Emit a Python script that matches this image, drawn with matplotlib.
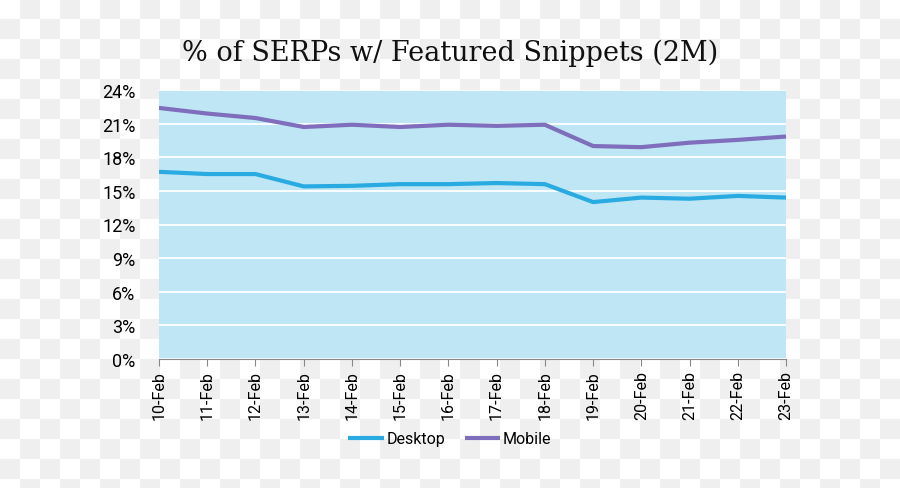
import numpy as np
import matplotlib
matplotlib.use('Agg')
import matplotlib.pyplot as plt
from matplotlib.collections import PatchCollection
from matplotlib.patches import Rectangle
from matplotlib.ticker import FuncFormatter

plt.rcParams['font.family'] = ['Roboto', 'DejaVu Sans']

dates = ['10-Feb', '11-Feb', '12-Feb', '13-Feb', '14-Feb', '15-Feb', '16-Feb',
         '17-Feb', '18-Feb', '19-Feb', '20-Feb', '21-Feb', '22-Feb', '23-Feb']
desktop = [16.7, 16.5, 16.5, 15.4, 15.45, 15.6, 15.6, 15.7, 15.6, 14.0, 14.4, 14.3, 14.55, 14.4]
mobile = [22.4, 21.9, 21.5, 20.7, 20.9, 20.7, 20.9, 20.8, 20.9, 19.0, 18.9, 19.3, 19.55, 19.85]
yticks = [0, 3, 6, 9, 12, 15, 18, 21, 24]

W, H = 900, 489
fig = plt.figure(figsize=(W / 100, H / 100), dpi=100, facecolor='white')

# transparent-look checkerboard behind everything (20px squares)
sq = 20
squares = []
for r in range(H // sq + 1):
    for c in range(W // sq + 1):
        if (r + c) % 2 == 1:
            squares.append(Rectangle((c * sq / W, 1 - (r + 1) * sq / H), sq / W, sq / H))
fig.add_artist(PatchCollection(squares, facecolor='#efefef', edgecolor='none',
                               transform=fig.transFigure, zorder=-10))

ax = fig.add_axes([159 / W, 1 - 360 / H, (786 - 159) / W, (360 - 91) / H])
ax.set_facecolor('#bee6f5')

x = np.arange(len(dates))
ax.plot(x, desktop, color='#29abe2', lw=3, label='Desktop', solid_capstyle='butt')
ax.plot(x, mobile, color='#7f6ebc', lw=3, label='Mobile', solid_capstyle='butt')

ax.set_xlim(0, len(dates) - 1)
ax.set_ylim(0, 24)
ax.set_yticks(yticks)
ax.yaxis.set_major_formatter(FuncFormatter(lambda v, p: f'{v:.0f}%'))
ax.grid(axis='y', color='white', lw=1.3)
ax.set_axisbelow(True)

ax.set_xticks(x)
ax.set_xticklabels(dates, rotation=90, fontsize=11.5)
ax.tick_params(axis='x', length=5, color='#888888', pad=3)
ax.tick_params(axis='y', length=0, labelsize=13, pad=17)

for s in ['top', 'right', 'left']:
    ax.spines[s].set_visible(False)
ax.spines['bottom'].set_color('#888888')

fig.text(0.5, 1 - 53 / H, '% of SERPs w/ Featured Snippets (2M)', ha='center', va='center',
         fontsize=19.5, color='#111111', family='DejaVu Serif')

fig.legend(loc='center', bbox_to_anchor=(0.5, 1 - 440 / H), ncol=2, frameon=False,
           fontsize=11.5, handlelength=2.2, handletextpad=0.2, columnspacing=1.2)

fig.savefig('out.png', dpi=100)
